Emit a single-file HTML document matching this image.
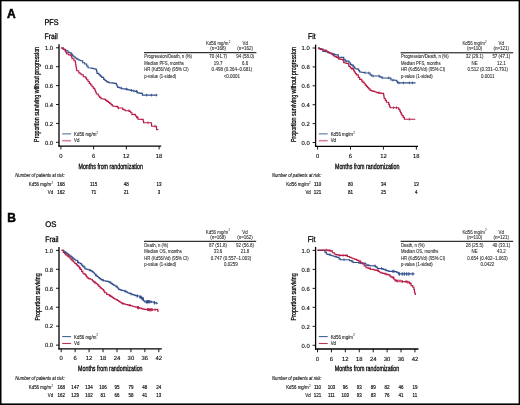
<!DOCTYPE html>
<html><head><meta charset="utf-8"><style>
html,body{margin:0;padding:0;background:#fff;overflow:hidden;width:520px;height:405px;}
svg{position:absolute;left:0;top:0;filter:blur(0.3px);}
text{font-family:"Liberation Sans", sans-serif;}
</style></head><body>
<svg width="520" height="405" viewBox="0 0 520 405" font-family='"Liberation Sans", sans-serif'>
<text x="6.90" y="18.00" font-size="12" font-weight="bold" stroke="#000" stroke-width="0.5">A</text>
<text x="7.30" y="221.60" font-size="12" font-weight="bold" stroke="#000" stroke-width="0.5">B</text>
<text transform="translate(44.50,24.80) skewX(0.1) scale(0.890,1)" font-size="8.2" stroke="#000" stroke-width="0.28">PFS</text>
<text transform="translate(44.60,39.00) skewX(0.1) scale(0.850,1)" font-size="8.0" stroke="#000" stroke-width="0.28">Frail</text>
<text transform="translate(308.00,39.00) skewX(0.1) scale(0.840,1)" font-size="8.2" stroke="#000" stroke-width="0.28">Fit</text>
<text transform="translate(45.20,227.10) skewX(0.1) scale(0.950,1)" font-size="8.2" stroke="#000" stroke-width="0.28">OS</text>
<text transform="translate(45.30,241.80) skewX(0.1) scale(0.850,1)" font-size="8.0" stroke="#000" stroke-width="0.28">Frail</text>
<text transform="translate(307.80,241.80) skewX(0.1) scale(0.840,1)" font-size="8.2" stroke="#000" stroke-width="0.28">Fit</text>
<line x1="59.00" y1="44.20" x2="59.00" y2="146.70" stroke="#000" stroke-width="1.3"/>
<line x1="58.40" y1="146.10" x2="161.20" y2="146.10" stroke="#000" stroke-width="1.3"/>
<line x1="56.00" y1="142.30" x2="59.00" y2="142.30" stroke="#000" stroke-width="0.9"/>
<text x="53.10" y="144.60" font-size="5.9" text-anchor="end" stroke="#000" stroke-width="0.1" transform="matrix(1 0 0.00175 1 -0.2531 0)">0.0</text>
<line x1="56.00" y1="123.40" x2="59.00" y2="123.40" stroke="#000" stroke-width="0.9"/>
<text x="53.10" y="125.70" font-size="5.9" text-anchor="end" stroke="#000" stroke-width="0.1" transform="matrix(1 0 0.00175 1 -0.2200 0)">0.2</text>
<line x1="56.00" y1="104.50" x2="59.00" y2="104.50" stroke="#000" stroke-width="0.9"/>
<text x="53.10" y="106.80" font-size="5.9" text-anchor="end" stroke="#000" stroke-width="0.1" transform="matrix(1 0 0.00175 1 -0.1869 0)">0.4</text>
<line x1="56.00" y1="85.60" x2="59.00" y2="85.60" stroke="#000" stroke-width="0.9"/>
<text x="53.10" y="87.90" font-size="5.9" text-anchor="end" stroke="#000" stroke-width="0.1" transform="matrix(1 0 0.00175 1 -0.1538 0)">0.6</text>
<line x1="56.00" y1="66.70" x2="59.00" y2="66.70" stroke="#000" stroke-width="0.9"/>
<text x="53.10" y="69.00" font-size="5.9" text-anchor="end" stroke="#000" stroke-width="0.1" transform="matrix(1 0 0.00175 1 -0.1207 0)">0.8</text>
<line x1="56.00" y1="47.80" x2="59.00" y2="47.80" stroke="#000" stroke-width="0.9"/>
<text x="53.10" y="50.10" font-size="5.9" text-anchor="end" stroke="#000" stroke-width="0.1" transform="matrix(1 0 0.00175 1 -0.0877 0)">1.0</text>
<line x1="60.90" y1="146.10" x2="60.90" y2="149.40" stroke="#000" stroke-width="0.9"/>
<text x="60.90" y="157.70" font-size="5.9" text-anchor="middle" stroke="#000" stroke-width="0.1" transform="matrix(1 0 0.00175 1 -0.2760 0)">0</text>
<line x1="93.63" y1="146.10" x2="93.63" y2="149.40" stroke="#000" stroke-width="0.9"/>
<text x="93.63" y="157.70" font-size="5.9" text-anchor="middle" stroke="#000" stroke-width="0.1" transform="matrix(1 0 0.00175 1 -0.2760 0)">6</text>
<line x1="126.36" y1="146.10" x2="126.36" y2="149.40" stroke="#000" stroke-width="0.9"/>
<text x="126.36" y="157.70" font-size="5.9" text-anchor="middle" stroke="#000" stroke-width="0.1" transform="matrix(1 0 0.00175 1 -0.2760 0)">12</text>
<line x1="159.09" y1="146.10" x2="159.09" y2="149.40" stroke="#000" stroke-width="0.9"/>
<text x="159.09" y="157.70" font-size="5.9" text-anchor="middle" stroke="#000" stroke-width="0.1" transform="matrix(1 0 0.00175 1 -0.2760 0)">18</text>
<text x="110.70" y="168.80" font-size="7.8" text-anchor="middle" textLength="64.50" lengthAdjust="spacingAndGlyphs" font-weight="normal" stroke="#000" stroke-width="0.3" transform="matrix(1 0 0.00175 1 -0.2954 0)">Months from randomization</text>
<text transform="translate(39.40,94.40) rotate(-90)" font-size="7.8" text-anchor="middle" textLength="95.00" lengthAdjust="spacingAndGlyphs" stroke="#000" stroke-width="0.26">Proportion surviving without progression</text>
<g stroke-opacity="0.55">
<line x1="62.20" y1="133.80" x2="71.10" y2="133.80" stroke="#304e8c" stroke-width="1.6"/>
<line x1="62.20" y1="140.70" x2="71.10" y2="140.70" stroke="#b81a46" stroke-width="1.6"/>
</g>
<text x="74.10" y="135.70" font-size="4.45" textLength="22.24" lengthAdjust="spacingAndGlyphs" fill="#222" stroke="#222" stroke-width="0.1">Kd56 mg/m</text>
<text x="96.59" y="133.60" font-size="3.2" textLength="1.60" lengthAdjust="spacingAndGlyphs" fill="#222" stroke="#222" stroke-width="0.06">2</text>
<text x="74.10" y="142.20" font-size="4.45" textLength="5.38" lengthAdjust="spacingAndGlyphs" fill="#222" stroke="#222" stroke-width="0.1">Vd</text>
<path d="M60.90,48.00H63.30V49.30H64.65V50.00H66.00V50.70H68.00V52.30H69.35V52.70H70.70V53.10H71.70V54.55H72.70V56.00H74.00V57.00H75.30V58.00H76.65V58.85H78.00V59.70H79.35V60.20H80.70V60.70H82.70V62.70H84.70V64.00H86.70V66.00H88.00V67.70L90.70,68.00H92.00V68.35H93.30V68.70H95.00V69.10H96.30V70.00H96.65V71.65H97.00V73.30H99.00V74.90H100.35V76.10H101.70V77.30H103.70V79.30H105.00V80.45H106.30V81.60H107.65V82.15H109.00V82.70L111.70,82.90H113.00V83.10H114.30V83.30H116.30V84.70H117.00V86.00H117.70V87.30H119.70V88.00H121.70V88.70H123.70V88.90H125.70V89.10H127.35V89.55H129.00V90.00H130.50V90.35H132.00V90.70H133.65V91.00H135.30V91.30H137.30V92.90H139.00V93.10H140.70V93.30H142.40V95.10L157.30,95.10" fill="none" stroke="#304e8c" stroke-width="1.15" stroke-linejoin="miter"/>
<path d="M60.90,48.00H63.30V49.30H65.30V51.30H66.00V52.65H66.70V54.00H68.70V54.90H70.70V55.30H71.35V57.00H72.00V58.70H74.00V60.70H75.30V62.70H75.65V64.70H76.00V66.70H76.35V68.70H76.70V70.70H78.70V72.70H80.00V73.70H81.30V74.70H83.30V76.70H85.30V77.10H86.00V78.40H86.70V79.70H88.00V81.50H89.30V83.30H90.65V85.00H92.00V86.70H93.35V88.35H94.70V90.00H95.50V92.00H96.30V94.00H98.30V96.00H99.65V97.35H101.00V98.70H102.65V99.00H104.30V99.30H105.65V100.30H107.00V101.30H108.35V102.30H109.70V103.30H111.00V104.65H112.30V106.00H113.65V106.20H115.00V106.40H117.30V107.10H118.00V108.00L121.30,108.00H122.70V109.30H124.00V110.00H125.30V110.70L127.30,110.70H129.30V111.30H130.70V112.70H132.00V114.70L134.00,114.40H135.30V116.00H136.70V117.30H138.00V119.10L142.70,119.30H143.15V121.00H143.60V122.70L151.30,122.70H151.45V124.45H151.60V126.20L156.20,126.20H156.40V127.90H156.60V129.60H157.80V130.00" fill="none" stroke="#b81a46" stroke-width="1.15" stroke-linejoin="miter"/>
<line x1="121.20" y1="86.65" x2="121.20" y2="89.35" stroke="#304e8c" stroke-width="0.8"/>
<line x1="126.50" y1="87.75" x2="126.50" y2="90.45" stroke="#304e8c" stroke-width="0.8"/>
<line x1="131.50" y1="89.00" x2="131.50" y2="91.70" stroke="#304e8c" stroke-width="0.8"/>
<line x1="133.80" y1="89.65" x2="133.80" y2="92.35" stroke="#304e8c" stroke-width="0.8"/>
<line x1="136.50" y1="89.95" x2="136.50" y2="92.65" stroke="#304e8c" stroke-width="0.8"/>
<line x1="146.50" y1="93.75" x2="146.50" y2="96.45" stroke="#304e8c" stroke-width="0.8"/>
<line x1="151.50" y1="93.75" x2="151.50" y2="96.45" stroke="#304e8c" stroke-width="0.8"/>
<line x1="156.40" y1="93.75" x2="156.40" y2="96.45" stroke="#304e8c" stroke-width="0.8"/>
<line x1="118.50" y1="106.65" x2="118.50" y2="109.35" stroke="#b81a46" stroke-width="0.8"/>
<line x1="129.00" y1="109.35" x2="129.00" y2="112.05" stroke="#b81a46" stroke-width="0.8"/>
<line x1="137.00" y1="115.95" x2="137.00" y2="118.65" stroke="#b81a46" stroke-width="0.8"/>
<line x1="148.00" y1="121.35" x2="148.00" y2="124.05" stroke="#b81a46" stroke-width="0.8"/>
<line x1="155.00" y1="124.85" x2="155.00" y2="127.55" stroke="#b81a46" stroke-width="0.8"/>
<line x1="315.60" y1="44.60" x2="315.60" y2="146.90" stroke="#000" stroke-width="1.3"/>
<line x1="315.00" y1="146.30" x2="418.00" y2="146.30" stroke="#000" stroke-width="1.3"/>
<line x1="312.60" y1="142.50" x2="315.60" y2="142.50" stroke="#000" stroke-width="0.9"/>
<text x="309.70" y="144.80" font-size="5.9" text-anchor="end" stroke="#000" stroke-width="0.1" transform="matrix(1 0 0.00175 1 -0.2534 0)">0.0</text>
<line x1="312.60" y1="123.60" x2="315.60" y2="123.60" stroke="#000" stroke-width="0.9"/>
<text x="309.70" y="125.90" font-size="5.9" text-anchor="end" stroke="#000" stroke-width="0.1" transform="matrix(1 0 0.00175 1 -0.2203 0)">0.2</text>
<line x1="312.60" y1="104.70" x2="315.60" y2="104.70" stroke="#000" stroke-width="0.9"/>
<text x="309.70" y="107.00" font-size="5.9" text-anchor="end" stroke="#000" stroke-width="0.1" transform="matrix(1 0 0.00175 1 -0.1872 0)">0.4</text>
<line x1="312.60" y1="85.80" x2="315.60" y2="85.80" stroke="#000" stroke-width="0.9"/>
<text x="309.70" y="88.10" font-size="5.9" text-anchor="end" stroke="#000" stroke-width="0.1" transform="matrix(1 0 0.00175 1 -0.1542 0)">0.6</text>
<line x1="312.60" y1="66.90" x2="315.60" y2="66.90" stroke="#000" stroke-width="0.9"/>
<text x="309.70" y="69.20" font-size="5.9" text-anchor="end" stroke="#000" stroke-width="0.1" transform="matrix(1 0 0.00175 1 -0.1211 0)">0.8</text>
<line x1="312.60" y1="48.00" x2="315.60" y2="48.00" stroke="#000" stroke-width="0.9"/>
<text x="309.70" y="50.30" font-size="5.9" text-anchor="end" stroke="#000" stroke-width="0.1" transform="matrix(1 0 0.00175 1 -0.0880 0)">1.0</text>
<line x1="317.60" y1="146.30" x2="317.60" y2="149.60" stroke="#000" stroke-width="0.9"/>
<text x="317.60" y="157.90" font-size="5.9" text-anchor="middle" stroke="#000" stroke-width="0.1" transform="matrix(1 0 0.00175 1 -0.2763 0)">0</text>
<line x1="350.52" y1="146.30" x2="350.52" y2="149.60" stroke="#000" stroke-width="0.9"/>
<text x="350.52" y="157.90" font-size="5.9" text-anchor="middle" stroke="#000" stroke-width="0.1" transform="matrix(1 0 0.00175 1 -0.2763 0)">6</text>
<line x1="383.43" y1="146.30" x2="383.43" y2="149.60" stroke="#000" stroke-width="0.9"/>
<text x="383.43" y="157.90" font-size="5.9" text-anchor="middle" stroke="#000" stroke-width="0.1" transform="matrix(1 0 0.00175 1 -0.2763 0)">12</text>
<line x1="416.35" y1="146.30" x2="416.35" y2="149.60" stroke="#000" stroke-width="0.9"/>
<text x="416.35" y="157.90" font-size="5.9" text-anchor="middle" stroke="#000" stroke-width="0.1" transform="matrix(1 0 0.00175 1 -0.2763 0)">18</text>
<text x="367.20" y="169.00" font-size="7.8" text-anchor="middle" textLength="64.50" lengthAdjust="spacingAndGlyphs" font-weight="normal" stroke="#000" stroke-width="0.3" transform="matrix(1 0 0.00175 1 -0.2958 0)">Months from randomization</text>
<text transform="translate(296.00,94.60) rotate(-90)" font-size="7.8" text-anchor="middle" textLength="95.00" lengthAdjust="spacingAndGlyphs" stroke="#000" stroke-width="0.26">Proportion surviving without progression</text>
<g stroke-opacity="0.55">
<line x1="318.80" y1="133.80" x2="327.70" y2="133.80" stroke="#304e8c" stroke-width="1.6"/>
<line x1="318.80" y1="140.70" x2="327.70" y2="140.70" stroke="#b81a46" stroke-width="1.6"/>
</g>
<text x="330.70" y="135.70" font-size="4.45" textLength="22.24" lengthAdjust="spacingAndGlyphs" fill="#222" stroke="#222" stroke-width="0.1">Kd56 mg/m</text>
<text x="353.19" y="133.60" font-size="3.2" textLength="1.60" lengthAdjust="spacingAndGlyphs" fill="#222" stroke="#222" stroke-width="0.06">2</text>
<text x="330.70" y="142.20" font-size="4.45" textLength="5.38" lengthAdjust="spacingAndGlyphs" fill="#222" stroke="#222" stroke-width="0.1">Vd</text>
<path d="M317.90,48.00H319.45V48.55H321.00V49.10H323.00V51.30H324.35V51.50H325.70V51.70H327.70V52.70H329.00V53.00H330.30V53.30H332.30V54.00H333.65V54.35H335.00V54.70L337.00,54.90H338.30V57.10L342.30,57.30H343.70V59.30H345.00V61.10L347.70,61.10H349.00V62.70H350.30V64.30H351.65V65.15H353.00V66.00H354.00V67.35H355.00V68.70H356.35V68.90H357.70V69.10H358.70V70.55H359.70V72.00H361.23V72.23H362.77V72.47H364.30V72.70L368.70,73.00H370.10V74.80H371.60V76.00L378.30,76.00H379.80V76.90H381.30V77.80L389.40,78.10H390.90V80.00H392.63V80.13H394.37V80.27H396.10V80.40H396.85V81.65H397.60V82.90L415.50,82.90" fill="none" stroke="#304e8c" stroke-width="1.15" stroke-linejoin="miter"/>
<path d="M317.90,48.00H319.10V48.65H320.30V49.30H321.65V49.65H323.00V50.00H324.35V50.35H325.70V50.70H327.00V51.50H328.30V52.30H329.65V52.95H331.00V53.60H332.35V54.80H333.70V56.00H335.00V56.65H336.30V57.30H338.30V58.90H339.65V59.10H341.00V59.30H343.00V60.70H343.70V62.70H345.00V63.00H346.30V63.30H348.30V64.00H348.65V65.20H349.00V66.40H350.30V68.00H351.65V68.55H353.00V69.10H353.65V70.55H354.30V72.00H355.30V73.45H356.30V74.90H358.30V77.30H359.70V79.30H361.70V81.10H362.95V82.40H364.20V83.70H365.30V85.05H366.40V86.40H367.55V87.65H368.70V88.90H370.10V90.40H371.60V90.90H373.10V91.40H374.95V92.00H376.80V92.60H378.30V92.83H379.80V93.07H381.30V93.30H383.50V94.10H383.73V95.57H383.97V97.03H384.20V98.50H385.30V100.35H386.40V102.20H388.70V104.40H389.40V106.05H390.10V107.70L397.60,107.70H398.70V109.40H399.80V111.10H400.53V112.60H401.27V114.10H402.00V115.60H403.20V117.40H404.40V119.20L415.30,119.20" fill="none" stroke="#b81a46" stroke-width="1.15" stroke-linejoin="miter"/>
<line x1="334.00" y1="53.00" x2="334.00" y2="55.70" stroke="#304e8c" stroke-width="0.8"/>
<line x1="346.00" y1="59.75" x2="346.00" y2="62.45" stroke="#304e8c" stroke-width="0.8"/>
<line x1="353.00" y1="64.65" x2="353.00" y2="67.35" stroke="#304e8c" stroke-width="0.8"/>
<line x1="365.00" y1="71.35" x2="365.00" y2="74.05" stroke="#304e8c" stroke-width="0.8"/>
<line x1="368.70" y1="71.65" x2="368.70" y2="74.35" stroke="#304e8c" stroke-width="0.8"/>
<line x1="373.10" y1="74.65" x2="373.10" y2="77.35" stroke="#304e8c" stroke-width="0.8"/>
<line x1="379.00" y1="74.65" x2="379.00" y2="77.35" stroke="#304e8c" stroke-width="0.8"/>
<line x1="382.70" y1="76.45" x2="382.70" y2="79.15" stroke="#304e8c" stroke-width="0.8"/>
<line x1="388.70" y1="76.45" x2="388.70" y2="79.15" stroke="#304e8c" stroke-width="0.8"/>
<line x1="393.10" y1="78.78" x2="393.10" y2="81.48" stroke="#304e8c" stroke-width="0.8"/>
<line x1="399.00" y1="81.55" x2="399.00" y2="84.25" stroke="#304e8c" stroke-width="0.8"/>
<line x1="403.50" y1="81.55" x2="403.50" y2="84.25" stroke="#304e8c" stroke-width="0.8"/>
<line x1="409.40" y1="81.55" x2="409.40" y2="84.25" stroke="#304e8c" stroke-width="0.8"/>
<line x1="412.50" y1="81.55" x2="412.50" y2="84.25" stroke="#304e8c" stroke-width="0.8"/>
<line x1="326.00" y1="49.35" x2="326.00" y2="52.05" stroke="#b81a46" stroke-width="0.8"/>
<line x1="338.00" y1="55.95" x2="338.00" y2="58.65" stroke="#b81a46" stroke-width="0.8"/>
<line x1="352.00" y1="67.20" x2="352.00" y2="69.90" stroke="#b81a46" stroke-width="0.8"/>
<line x1="379.00" y1="91.48" x2="379.00" y2="94.18" stroke="#b81a46" stroke-width="0.8"/>
<line x1="393.60" y1="106.35" x2="393.60" y2="109.05" stroke="#b81a46" stroke-width="0.8"/>
<line x1="396.50" y1="106.35" x2="396.50" y2="109.05" stroke="#b81a46" stroke-width="0.8"/>
<line x1="409.40" y1="117.85" x2="409.40" y2="120.55" stroke="#b81a46" stroke-width="0.8"/>
<line x1="59.00" y1="247.00" x2="59.00" y2="349.50" stroke="#000" stroke-width="1.3"/>
<line x1="58.40" y1="348.90" x2="161.80" y2="348.90" stroke="#000" stroke-width="1.3"/>
<line x1="56.00" y1="345.10" x2="59.00" y2="345.10" stroke="#000" stroke-width="0.9"/>
<text x="53.10" y="347.40" font-size="5.9" text-anchor="end" stroke="#000" stroke-width="0.1" transform="matrix(1 0 0.00175 1 -0.6080 0)">0.0</text>
<line x1="56.00" y1="326.16" x2="59.00" y2="326.16" stroke="#000" stroke-width="0.9"/>
<text x="53.10" y="328.46" font-size="5.9" text-anchor="end" stroke="#000" stroke-width="0.1" transform="matrix(1 0 0.00175 1 -0.5748 0)">0.2</text>
<line x1="56.00" y1="307.22" x2="59.00" y2="307.22" stroke="#000" stroke-width="0.9"/>
<text x="53.10" y="309.52" font-size="5.9" text-anchor="end" stroke="#000" stroke-width="0.1" transform="matrix(1 0 0.00175 1 -0.5417 0)">0.4</text>
<line x1="56.00" y1="288.28" x2="59.00" y2="288.28" stroke="#000" stroke-width="0.9"/>
<text x="53.10" y="290.58" font-size="5.9" text-anchor="end" stroke="#000" stroke-width="0.1" transform="matrix(1 0 0.00175 1 -0.5085 0)">0.6</text>
<line x1="56.00" y1="269.34" x2="59.00" y2="269.34" stroke="#000" stroke-width="0.9"/>
<text x="53.10" y="271.64" font-size="5.9" text-anchor="end" stroke="#000" stroke-width="0.1" transform="matrix(1 0 0.00175 1 -0.4754 0)">0.8</text>
<line x1="56.00" y1="250.40" x2="59.00" y2="250.40" stroke="#000" stroke-width="0.9"/>
<text x="53.10" y="252.70" font-size="5.9" text-anchor="end" stroke="#000" stroke-width="0.1" transform="matrix(1 0 0.00175 1 -0.4422 0)">1.0</text>
<line x1="61.20" y1="348.90" x2="61.20" y2="352.20" stroke="#000" stroke-width="0.9"/>
<text x="61.20" y="360.50" font-size="5.9" text-anchor="middle" stroke="#000" stroke-width="0.1" transform="matrix(1 0 0.00175 1 -0.6309 0)">0</text>
<line x1="75.14" y1="348.90" x2="75.14" y2="352.20" stroke="#000" stroke-width="0.9"/>
<text x="75.14" y="360.50" font-size="5.9" text-anchor="middle" stroke="#000" stroke-width="0.1" transform="matrix(1 0 0.00175 1 -0.6309 0)">6</text>
<line x1="89.09" y1="348.90" x2="89.09" y2="352.20" stroke="#000" stroke-width="0.9"/>
<text x="89.09" y="360.50" font-size="5.9" text-anchor="middle" stroke="#000" stroke-width="0.1" transform="matrix(1 0 0.00175 1 -0.6309 0)">12</text>
<line x1="103.03" y1="348.90" x2="103.03" y2="352.20" stroke="#000" stroke-width="0.9"/>
<text x="103.03" y="360.50" font-size="5.9" text-anchor="middle" stroke="#000" stroke-width="0.1" transform="matrix(1 0 0.00175 1 -0.6309 0)">18</text>
<line x1="116.98" y1="348.90" x2="116.98" y2="352.20" stroke="#000" stroke-width="0.9"/>
<text x="116.98" y="360.50" font-size="5.9" text-anchor="middle" stroke="#000" stroke-width="0.1" transform="matrix(1 0 0.00175 1 -0.6309 0)">24</text>
<line x1="130.92" y1="348.90" x2="130.92" y2="352.20" stroke="#000" stroke-width="0.9"/>
<text x="130.92" y="360.50" font-size="5.9" text-anchor="middle" stroke="#000" stroke-width="0.1" transform="matrix(1 0 0.00175 1 -0.6309 0)">30</text>
<line x1="144.86" y1="348.90" x2="144.86" y2="352.20" stroke="#000" stroke-width="0.9"/>
<text x="144.86" y="360.50" font-size="5.9" text-anchor="middle" stroke="#000" stroke-width="0.1" transform="matrix(1 0 0.00175 1 -0.6309 0)">36</text>
<line x1="158.81" y1="348.90" x2="158.81" y2="352.20" stroke="#000" stroke-width="0.9"/>
<text x="158.81" y="360.50" font-size="5.9" text-anchor="middle" stroke="#000" stroke-width="0.1" transform="matrix(1 0 0.00175 1 -0.6309 0)">42</text>
<text x="110.30" y="371.00" font-size="7.8" text-anchor="middle" textLength="64.50" lengthAdjust="spacingAndGlyphs" font-weight="normal" stroke="#000" stroke-width="0.3" transform="matrix(1 0 0.00175 1 -0.6492 0)">Months from randomization</text>
<text transform="translate(40.30,296.90) rotate(-90)" font-size="7.8" text-anchor="middle" textLength="47.00" lengthAdjust="spacingAndGlyphs" stroke="#000" stroke-width="0.26">Proportion surviving</text>
<g stroke-opacity="0.9">
<line x1="62.20" y1="336.60" x2="71.10" y2="336.60" stroke="#304e8c" stroke-width="1.1"/>
<line x1="62.20" y1="343.50" x2="71.10" y2="343.50" stroke="#b81a46" stroke-width="1.1"/>
</g>
<text x="74.10" y="338.50" font-size="4.45" textLength="22.24" lengthAdjust="spacingAndGlyphs" fill="#222" stroke="#222" stroke-width="0.1">Kd56 mg/m</text>
<text x="96.59" y="336.40" font-size="3.2" textLength="1.60" lengthAdjust="spacingAndGlyphs" fill="#222" stroke="#222" stroke-width="0.06">2</text>
<text x="74.10" y="345.00" font-size="4.45" textLength="5.38" lengthAdjust="spacingAndGlyphs" fill="#222" stroke="#222" stroke-width="0.1">Vd</text>
<path d="M61.50,250.20H63.90V251.90H65.40V252.80H66.90V253.70H68.35V254.90H69.80V256.10H71.30V257.25H72.80V258.40H74.00V259.30H75.20V260.20H77.60V262.30H78.90V262.95H80.20V263.60H81.50V265.15H82.80V266.70H84.90V268.80H86.45V269.25H88.00V269.70H89.30V270.15H90.60V270.60H91.90V271.65H93.20V272.70H94.45V274.00H95.70V275.30H97.00V276.45H98.30V277.60H99.60V278.60H100.90V279.60H102.20V280.15H103.50V280.70H105.25V281.05H107.00V281.40H108.30V281.80H109.60V282.20H110.90V283.30H112.20V284.40H113.50V285.05H114.80V285.70H116.00V286.70H117.35V288.00H118.70V289.30H120.00V289.80H121.30V290.30H123.00V290.70H124.70V291.10H126.00V291.90H127.30V292.70H129.00V293.35H130.70V294.00H132.35V294.55H134.00V295.10H135.35V295.55H136.70V296.00L138.70,296.00H140.00V297.30H142.00V298.70H143.30V300.70H144.70V302.00H146.35V301.85H148.00V301.70H150.00V301.85H152.00V302.00H154.00V302.70H156.00V303.10L158.00,303.30" fill="none" stroke="#304e8c" stroke-width="1.15" stroke-linejoin="miter"/>
<path d="M61.50,250.20H63.30V252.50H64.50V253.70H65.70V254.90H67.20V255.90H68.70V256.90H69.85V258.25H71.00V259.60H72.20V260.80H73.40V262.00H74.85V263.45H76.30V264.90H77.50V265.90H78.70V266.90H79.50V268.15H80.30V269.40H81.55V271.30H82.80V273.20H84.10V274.05H85.40V274.90H86.25V276.40H87.10V277.90H88.60V278.55H90.10V279.20H92.30V280.90H93.60V281.80H94.90V282.70H96.20V283.75H97.50V284.80H98.80V286.30H100.10V287.80H101.40V288.70H102.70V289.60H103.70V291.15H104.70V292.70H106.70V294.30H108.00V294.70H109.35V295.55H110.70V296.40H112.00V297.35H113.30V298.30H114.65V298.95H116.00V299.60H117.35V300.45H118.70V301.30H120.00V302.20H121.30V303.10H122.65V303.55H124.00V304.00H125.65V304.45H127.30V304.90H129.00V305.30H130.70V305.70H132.35V306.20H134.00V306.70H135.65V307.15H137.30V307.60H139.30V308.15H141.30V308.70H143.00V309.00H144.70V309.30H146.35V309.50H148.00V309.70L154.00,309.70H155.65V309.50H157.30V309.30H157.65V310.65H158.00V312.00" fill="none" stroke="#b81a46" stroke-width="1.15" stroke-linejoin="miter"/>
<line x1="66.00" y1="251.45" x2="66.00" y2="254.15" stroke="#304e8c" stroke-width="0.8"/>
<line x1="72.00" y1="255.90" x2="72.00" y2="258.60" stroke="#304e8c" stroke-width="0.8"/>
<line x1="78.00" y1="260.95" x2="78.00" y2="263.65" stroke="#304e8c" stroke-width="0.8"/>
<line x1="84.00" y1="265.35" x2="84.00" y2="268.05" stroke="#304e8c" stroke-width="0.8"/>
<line x1="90.00" y1="268.80" x2="90.00" y2="271.50" stroke="#304e8c" stroke-width="0.8"/>
<line x1="96.00" y1="273.95" x2="96.00" y2="276.65" stroke="#304e8c" stroke-width="0.8"/>
<line x1="103.00" y1="278.80" x2="103.00" y2="281.50" stroke="#304e8c" stroke-width="0.8"/>
<line x1="110.00" y1="280.85" x2="110.00" y2="283.55" stroke="#304e8c" stroke-width="0.8"/>
<line x1="117.00" y1="285.35" x2="117.00" y2="288.05" stroke="#304e8c" stroke-width="0.8"/>
<line x1="125.00" y1="289.75" x2="125.00" y2="292.45" stroke="#304e8c" stroke-width="0.8"/>
<line x1="131.00" y1="292.65" x2="131.00" y2="295.35" stroke="#304e8c" stroke-width="0.8"/>
<line x1="137.30" y1="294.30" x2="137.30" y2="297.70" stroke="#304e8c" stroke-width="1.0"/>
<line x1="140.20" y1="295.80" x2="140.20" y2="298.80" stroke="#304e8c" stroke-width="1.2"/>
<line x1="141.20" y1="295.80" x2="141.20" y2="298.80" stroke="#304e8c" stroke-width="1.2"/>
<line x1="142.20" y1="297.20" x2="142.20" y2="300.20" stroke="#304e8c" stroke-width="1.2"/>
<line x1="143.20" y1="297.20" x2="143.20" y2="300.20" stroke="#304e8c" stroke-width="1.2"/>
<line x1="146.50" y1="300.25" x2="146.50" y2="303.45" stroke="#304e8c" stroke-width="1.3"/>
<line x1="147.60" y1="300.25" x2="147.60" y2="303.45" stroke="#304e8c" stroke-width="1.3"/>
<line x1="148.70" y1="300.10" x2="148.70" y2="303.30" stroke="#304e8c" stroke-width="1.3"/>
<line x1="149.80" y1="300.20" x2="149.80" y2="303.20" stroke="#304e8c" stroke-width="1.2"/>
<line x1="151.30" y1="300.55" x2="151.30" y2="303.15" stroke="#304e8c" stroke-width="0.8"/>
<line x1="154.40" y1="301.00" x2="154.40" y2="304.40" stroke="#304e8c" stroke-width="1.1"/>
<line x1="156.30" y1="301.80" x2="156.30" y2="304.40" stroke="#304e8c" stroke-width="0.8"/>
<line x1="68.00" y1="254.55" x2="68.00" y2="257.25" stroke="#b81a46" stroke-width="0.8"/>
<line x1="80.00" y1="266.80" x2="80.00" y2="269.50" stroke="#b81a46" stroke-width="0.8"/>
<line x1="95.00" y1="281.35" x2="95.00" y2="284.05" stroke="#b81a46" stroke-width="0.8"/>
<line x1="110.00" y1="294.20" x2="110.00" y2="296.90" stroke="#b81a46" stroke-width="0.8"/>
<line x1="123.00" y1="302.20" x2="123.00" y2="304.90" stroke="#b81a46" stroke-width="0.8"/>
<line x1="130.00" y1="303.95" x2="130.00" y2="306.65" stroke="#b81a46" stroke-width="0.8"/>
<line x1="138.10" y1="305.90" x2="138.10" y2="309.30" stroke="#b81a46" stroke-width="1.6"/>
<line x1="143.00" y1="307.80" x2="143.00" y2="310.20" stroke="#b81a46" stroke-width="0.7"/>
<line x1="147.80" y1="308.00" x2="147.80" y2="311.00" stroke="#b81a46" stroke-width="1.3"/>
<line x1="148.90" y1="308.20" x2="148.90" y2="311.20" stroke="#b81a46" stroke-width="1.3"/>
<line x1="150.00" y1="308.20" x2="150.00" y2="311.20" stroke="#b81a46" stroke-width="1.3"/>
<line x1="151.10" y1="308.20" x2="151.10" y2="311.20" stroke="#b81a46" stroke-width="1.3"/>
<line x1="152.20" y1="308.30" x2="152.20" y2="311.10" stroke="#b81a46" stroke-width="1.1"/>
<line x1="155.00" y1="308.40" x2="155.00" y2="311.00" stroke="#b81a46" stroke-width="0.8"/>
<line x1="315.60" y1="246.90" x2="315.60" y2="349.60" stroke="#000" stroke-width="1.3"/>
<line x1="315.00" y1="349.00" x2="418.50" y2="349.00" stroke="#000" stroke-width="1.3"/>
<line x1="312.60" y1="345.30" x2="315.60" y2="345.30" stroke="#000" stroke-width="0.9"/>
<text x="309.70" y="347.60" font-size="5.9" text-anchor="end" stroke="#000" stroke-width="0.1" transform="matrix(1 0 0.00175 1 -0.6083 0)">0.0</text>
<line x1="312.60" y1="326.32" x2="315.60" y2="326.32" stroke="#000" stroke-width="0.9"/>
<text x="309.70" y="328.62" font-size="5.9" text-anchor="end" stroke="#000" stroke-width="0.1" transform="matrix(1 0 0.00175 1 -0.5751 0)">0.2</text>
<line x1="312.60" y1="307.34" x2="315.60" y2="307.34" stroke="#000" stroke-width="0.9"/>
<text x="309.70" y="309.64" font-size="5.9" text-anchor="end" stroke="#000" stroke-width="0.1" transform="matrix(1 0 0.00175 1 -0.5419 0)">0.4</text>
<line x1="312.60" y1="288.36" x2="315.60" y2="288.36" stroke="#000" stroke-width="0.9"/>
<text x="309.70" y="290.66" font-size="5.9" text-anchor="end" stroke="#000" stroke-width="0.1" transform="matrix(1 0 0.00175 1 -0.5087 0)">0.6</text>
<line x1="312.60" y1="269.38" x2="315.60" y2="269.38" stroke="#000" stroke-width="0.9"/>
<text x="309.70" y="271.68" font-size="5.9" text-anchor="end" stroke="#000" stroke-width="0.1" transform="matrix(1 0 0.00175 1 -0.4754 0)">0.8</text>
<line x1="312.60" y1="250.40" x2="315.60" y2="250.40" stroke="#000" stroke-width="0.9"/>
<text x="309.70" y="252.70" font-size="5.9" text-anchor="end" stroke="#000" stroke-width="0.1" transform="matrix(1 0 0.00175 1 -0.4422 0)">1.0</text>
<line x1="317.50" y1="349.00" x2="317.50" y2="352.30" stroke="#000" stroke-width="0.9"/>
<text x="317.50" y="360.60" font-size="5.9" text-anchor="middle" stroke="#000" stroke-width="0.1" transform="matrix(1 0 0.00175 1 -0.6310 0)">0</text>
<line x1="331.42" y1="349.00" x2="331.42" y2="352.30" stroke="#000" stroke-width="0.9"/>
<text x="331.42" y="360.60" font-size="5.9" text-anchor="middle" stroke="#000" stroke-width="0.1" transform="matrix(1 0 0.00175 1 -0.6310 0)">6</text>
<line x1="345.34" y1="349.00" x2="345.34" y2="352.30" stroke="#000" stroke-width="0.9"/>
<text x="345.34" y="360.60" font-size="5.9" text-anchor="middle" stroke="#000" stroke-width="0.1" transform="matrix(1 0 0.00175 1 -0.6310 0)">12</text>
<line x1="359.26" y1="349.00" x2="359.26" y2="352.30" stroke="#000" stroke-width="0.9"/>
<text x="359.26" y="360.60" font-size="5.9" text-anchor="middle" stroke="#000" stroke-width="0.1" transform="matrix(1 0 0.00175 1 -0.6310 0)">18</text>
<line x1="373.18" y1="349.00" x2="373.18" y2="352.30" stroke="#000" stroke-width="0.9"/>
<text x="373.18" y="360.60" font-size="5.9" text-anchor="middle" stroke="#000" stroke-width="0.1" transform="matrix(1 0 0.00175 1 -0.6310 0)">24</text>
<line x1="387.10" y1="349.00" x2="387.10" y2="352.30" stroke="#000" stroke-width="0.9"/>
<text x="387.10" y="360.60" font-size="5.9" text-anchor="middle" stroke="#000" stroke-width="0.1" transform="matrix(1 0 0.00175 1 -0.6310 0)">30</text>
<line x1="401.02" y1="349.00" x2="401.02" y2="352.30" stroke="#000" stroke-width="0.9"/>
<text x="401.02" y="360.60" font-size="5.9" text-anchor="middle" stroke="#000" stroke-width="0.1" transform="matrix(1 0 0.00175 1 -0.6310 0)">36</text>
<line x1="414.94" y1="349.00" x2="414.94" y2="352.30" stroke="#000" stroke-width="0.9"/>
<text x="414.94" y="360.60" font-size="5.9" text-anchor="middle" stroke="#000" stroke-width="0.1" transform="matrix(1 0 0.00175 1 -0.6310 0)">42</text>
<text x="367.00" y="371.10" font-size="7.8" text-anchor="middle" textLength="64.50" lengthAdjust="spacingAndGlyphs" font-weight="normal" stroke="#000" stroke-width="0.3" transform="matrix(1 0 0.00175 1 -0.6494 0)">Months from randomization</text>
<text transform="translate(295.60,296.90) rotate(-90)" font-size="7.8" text-anchor="middle" textLength="47.00" lengthAdjust="spacingAndGlyphs" stroke="#000" stroke-width="0.26">Proportion surviving</text>
<g stroke-opacity="0.9">
<line x1="318.80" y1="336.60" x2="327.70" y2="336.60" stroke="#304e8c" stroke-width="1.1"/>
<line x1="318.80" y1="343.50" x2="327.70" y2="343.50" stroke="#b81a46" stroke-width="1.1"/>
</g>
<text x="330.70" y="338.50" font-size="4.45" textLength="22.24" lengthAdjust="spacingAndGlyphs" fill="#222" stroke="#222" stroke-width="0.1">Kd56 mg/m</text>
<text x="353.19" y="336.40" font-size="3.2" textLength="1.60" lengthAdjust="spacingAndGlyphs" fill="#222" stroke="#222" stroke-width="0.06">2</text>
<text x="330.70" y="345.00" font-size="4.45" textLength="5.38" lengthAdjust="spacingAndGlyphs" fill="#222" stroke="#222" stroke-width="0.1">Vd</text>
<path d="M317.50,250.40L323.70,250.40H325.00V252.30H326.30V254.00H327.65V254.35H329.00V254.70H330.35V255.20H331.70V255.70H333.35V256.20H335.00V256.70H337.00V257.30H339.00V258.90H340.30V259.70L348.20,259.70H349.50V260.60H351.70V261.20H353.00V262.50L357.30,262.50H358.60V262.80H360.80V263.10L363.40,263.10H365.10V263.70H366.00V265.10H367.90V265.35H369.80V265.60L374.60,265.80H375.60V266.90H376.90V267.80H377.80V268.40L382.20,268.60H383.10V269.30H384.90V270.00H386.25V270.45H387.60V270.90H388.90V271.30L392.00,271.30H394.40V271.60H396.70V272.30H398.30V273.90L414.40,273.90" fill="none" stroke="#304e8c" stroke-width="1.15" stroke-linejoin="miter"/>
<path d="M317.50,250.10L325.00,250.10H326.65V250.25H328.30V250.40H329.65V250.65H331.00V250.90H332.30V252.70H334.30V254.00H335.65V254.45H337.00V254.90H339.00V255.40L345.60,255.40H347.40V256.50H349.50V257.40H351.20V258.00H353.00V258.70H354.70V259.30H356.90V260.40H358.60V261.20H360.80V262.80H362.50V263.80H364.20V266.00H366.00V267.70H368.10V268.30H370.30V269.20L372.00,269.40H373.80V269.90H375.10V270.15H376.40V270.40H378.20V271.30H379.60V272.20H380.90V272.80H382.70V273.40H384.90V274.10H387.10V274.60H388.90V275.10H389.80V275.80H390.70V276.90H392.20V277.60H393.90V279.20H395.00V280.60H396.40V280.80H397.80V281.00L400.60,281.00H402.20V281.60L405.00,281.60H406.40V281.85H407.80V282.10H409.40V283.30H411.10V285.60H412.80V287.20H413.90V289.40H414.40V291.70H414.85V293.35H415.30V295.00" fill="none" stroke="#b81a46" stroke-width="1.15" stroke-linejoin="miter"/>
<line x1="330.00" y1="253.35" x2="330.00" y2="256.05" stroke="#304e8c" stroke-width="0.8"/>
<line x1="336.00" y1="255.35" x2="336.00" y2="258.05" stroke="#304e8c" stroke-width="0.8"/>
<line x1="344.00" y1="258.35" x2="344.00" y2="261.05" stroke="#304e8c" stroke-width="0.8"/>
<line x1="352.00" y1="259.85" x2="352.00" y2="262.55" stroke="#304e8c" stroke-width="0.8"/>
<line x1="360.00" y1="261.45" x2="360.00" y2="264.15" stroke="#304e8c" stroke-width="0.8"/>
<line x1="368.00" y1="264.00" x2="368.00" y2="266.70" stroke="#304e8c" stroke-width="0.8"/>
<line x1="375.00" y1="264.45" x2="375.00" y2="267.15" stroke="#304e8c" stroke-width="0.8"/>
<line x1="381.50" y1="267.05" x2="381.50" y2="269.75" stroke="#304e8c" stroke-width="0.8"/>
<line x1="386.00" y1="268.65" x2="386.00" y2="271.35" stroke="#304e8c" stroke-width="0.8"/>
<line x1="392.80" y1="269.80" x2="392.80" y2="272.80" stroke="#304e8c" stroke-width="0.9"/>
<line x1="393.90" y1="269.80" x2="393.90" y2="272.80" stroke="#304e8c" stroke-width="0.9"/>
<line x1="399.40" y1="272.15" x2="399.40" y2="275.65" stroke="#304e8c" stroke-width="1.1"/>
<line x1="402.20" y1="272.15" x2="402.20" y2="275.65" stroke="#304e8c" stroke-width="1.1"/>
<line x1="404.40" y1="272.15" x2="404.40" y2="275.65" stroke="#304e8c" stroke-width="1.1"/>
<line x1="406.70" y1="272.15" x2="406.70" y2="275.65" stroke="#304e8c" stroke-width="1.1"/>
<line x1="408.90" y1="272.15" x2="408.90" y2="275.65" stroke="#304e8c" stroke-width="1.1"/>
<line x1="412.80" y1="272.20" x2="412.80" y2="275.60" stroke="#304e8c" stroke-width="1.0"/>
<line x1="326.30" y1="248.75" x2="326.30" y2="251.45" stroke="#b81a46" stroke-width="0.8"/>
<line x1="328.00" y1="248.90" x2="328.00" y2="251.60" stroke="#b81a46" stroke-width="0.8"/>
<line x1="330.00" y1="249.30" x2="330.00" y2="252.00" stroke="#b81a46" stroke-width="0.8"/>
<line x1="340.00" y1="254.05" x2="340.00" y2="256.75" stroke="#b81a46" stroke-width="0.8"/>
<line x1="343.00" y1="254.05" x2="343.00" y2="256.75" stroke="#b81a46" stroke-width="0.8"/>
<line x1="346.00" y1="254.05" x2="346.00" y2="256.75" stroke="#b81a46" stroke-width="0.8"/>
<line x1="360.00" y1="259.85" x2="360.00" y2="262.55" stroke="#b81a46" stroke-width="0.8"/>
<line x1="370.00" y1="266.95" x2="370.00" y2="269.65" stroke="#b81a46" stroke-width="0.8"/>
<line x1="378.00" y1="269.05" x2="378.00" y2="271.75" stroke="#b81a46" stroke-width="0.8"/>
<line x1="386.00" y1="272.75" x2="386.00" y2="275.45" stroke="#b81a46" stroke-width="0.8"/>
<line x1="393.30" y1="276.10" x2="393.30" y2="279.10" stroke="#b81a46" stroke-width="0.9"/>
<line x1="396.10" y1="279.10" x2="396.10" y2="282.10" stroke="#b81a46" stroke-width="0.9"/>
<line x1="397.80" y1="279.50" x2="397.80" y2="282.50" stroke="#b81a46" stroke-width="0.9"/>
<line x1="400.00" y1="279.50" x2="400.00" y2="282.50" stroke="#b81a46" stroke-width="0.9"/>
<line x1="402.20" y1="280.10" x2="402.20" y2="283.10" stroke="#b81a46" stroke-width="0.9"/>
<line x1="406.10" y1="280.10" x2="406.10" y2="283.10" stroke="#b81a46" stroke-width="0.9"/>
<line x1="407.80" y1="280.60" x2="407.80" y2="283.60" stroke="#b81a46" stroke-width="0.9"/>
<line x1="410.00" y1="281.90" x2="410.00" y2="284.70" stroke="#b81a46" stroke-width="0.8"/>
<text x="205.98" y="44.90" font-size="4.45" textLength="22.50" lengthAdjust="spacingAndGlyphs" fill="#2a2a2a" stroke="#2a2a2a" stroke-width="0.08">Kd56 mg/m</text>
<text x="228.72" y="42.80" font-size="3.2" textLength="1.60" lengthAdjust="spacingAndGlyphs" fill="#2a2a2a" stroke="#2a2a2a" stroke-width="0.06">2</text>
<text x="218.20" y="49.95" font-size="4.45" text-anchor="middle" textLength="15.64" lengthAdjust="spacingAndGlyphs" fill="#2a2a2a" stroke="#2a2a2a" stroke-width="0.08">(n=168)</text>
<text x="245.20" y="44.90" font-size="4.45" text-anchor="middle" textLength="5.38" lengthAdjust="spacingAndGlyphs" fill="#2a2a2a" stroke="#2a2a2a" stroke-width="0.08">Vd</text>
<text x="245.20" y="49.95" font-size="4.45" text-anchor="middle" textLength="15.64" lengthAdjust="spacingAndGlyphs" fill="#2a2a2a" stroke="#2a2a2a" stroke-width="0.08">(n=162)</text>
<line x1="144.00" y1="52.70" x2="256.40" y2="52.70" stroke="#000" stroke-width="1.0"/>
<text x="144.30" y="58.40" font-size="4.45" textLength="47.72" lengthAdjust="spacingAndGlyphs" fill="#2a2a2a" stroke="#2a2a2a" stroke-width="0.08">Progression/Death, n (%)</text>
<text x="218.20" y="58.40" font-size="4.45" text-anchor="middle" textLength="17.81" lengthAdjust="spacingAndGlyphs" fill="#2a2a2a" stroke="#2a2a2a" stroke-width="0.08">70 (41.7)</text>
<text x="245.20" y="58.40" font-size="4.45" text-anchor="middle" textLength="17.81" lengthAdjust="spacingAndGlyphs" fill="#2a2a2a" stroke="#2a2a2a" stroke-width="0.08">94 (58.0)</text>
<text x="144.30" y="64.85" font-size="4.45" textLength="39.69" lengthAdjust="spacingAndGlyphs" fill="#2a2a2a" stroke="#2a2a2a" stroke-width="0.08">Median PFS, months</text>
<text x="218.20" y="64.85" font-size="4.45" text-anchor="middle" textLength="8.66" lengthAdjust="spacingAndGlyphs" fill="#2a2a2a" stroke="#2a2a2a" stroke-width="0.08">19.7</text>
<text x="245.20" y="64.85" font-size="4.45" text-anchor="middle" textLength="6.19" lengthAdjust="spacingAndGlyphs" fill="#2a2a2a" stroke="#2a2a2a" stroke-width="0.08">6.6</text>
<text x="144.30" y="71.30" font-size="4.45" textLength="44.40" lengthAdjust="spacingAndGlyphs" fill="#2a2a2a" stroke="#2a2a2a" stroke-width="0.08">HR (Kd56/Vd) (95% CI)</text>
<text x="231.90" y="71.30" font-size="4.45" text-anchor="middle" textLength="40.53" lengthAdjust="spacingAndGlyphs" fill="#2a2a2a" stroke="#2a2a2a" stroke-width="0.08">0.498 (0.364–0.681)</text>
<text x="144.30" y="77.75" font-size="4.45" textLength="31.89" lengthAdjust="spacingAndGlyphs" fill="#2a2a2a" stroke="#2a2a2a" stroke-width="0.08">p-value (1-sided)</text>
<text x="231.90" y="77.75" font-size="4.45" text-anchor="middle" textLength="16.39" lengthAdjust="spacingAndGlyphs" fill="#2a2a2a" stroke="#2a2a2a" stroke-width="0.08">&lt;0.0001</text>
<text x="462.38" y="45.00" font-size="4.45" textLength="22.50" lengthAdjust="spacingAndGlyphs" fill="#2a2a2a" stroke="#2a2a2a" stroke-width="0.08">Kd56 mg/m</text>
<text x="485.12" y="42.90" font-size="3.2" textLength="1.60" lengthAdjust="spacingAndGlyphs" fill="#2a2a2a" stroke="#2a2a2a" stroke-width="0.06">2</text>
<text x="474.60" y="50.05" font-size="4.45" text-anchor="middle" textLength="15.30" lengthAdjust="spacingAndGlyphs" fill="#2a2a2a" stroke="#2a2a2a" stroke-width="0.08">(n=110)</text>
<text x="501.30" y="45.00" font-size="4.45" text-anchor="middle" textLength="5.38" lengthAdjust="spacingAndGlyphs" fill="#2a2a2a" stroke="#2a2a2a" stroke-width="0.08">Vd</text>
<text x="501.30" y="50.05" font-size="4.45" text-anchor="middle" textLength="15.64" lengthAdjust="spacingAndGlyphs" fill="#2a2a2a" stroke="#2a2a2a" stroke-width="0.08">(n=121)</text>
<line x1="400.60" y1="52.80" x2="513.20" y2="52.80" stroke="#000" stroke-width="1.0"/>
<text x="400.90" y="58.40" font-size="4.45" textLength="47.72" lengthAdjust="spacingAndGlyphs" fill="#2a2a2a" stroke="#2a2a2a" stroke-width="0.08">Progression/Death, n (%)</text>
<text x="474.60" y="58.40" font-size="4.45" text-anchor="middle" textLength="17.81" lengthAdjust="spacingAndGlyphs" fill="#2a2a2a" stroke="#2a2a2a" stroke-width="0.08">32 (29.1)</text>
<text x="501.30" y="58.40" font-size="4.45" text-anchor="middle" textLength="17.81" lengthAdjust="spacingAndGlyphs" fill="#2a2a2a" stroke="#2a2a2a" stroke-width="0.08">57 (47.1)</text>
<text x="400.90" y="64.85" font-size="4.45" textLength="39.69" lengthAdjust="spacingAndGlyphs" fill="#2a2a2a" stroke="#2a2a2a" stroke-width="0.08">Median PFS, months</text>
<text x="474.60" y="64.85" font-size="4.45" text-anchor="middle" textLength="6.18" lengthAdjust="spacingAndGlyphs" fill="#2a2a2a" stroke="#2a2a2a" stroke-width="0.08">NE</text>
<text x="501.30" y="64.85" font-size="4.45" text-anchor="middle" textLength="8.66" lengthAdjust="spacingAndGlyphs" fill="#2a2a2a" stroke="#2a2a2a" stroke-width="0.08">12.1</text>
<text x="400.90" y="71.30" font-size="4.45" textLength="44.40" lengthAdjust="spacingAndGlyphs" fill="#2a2a2a" stroke="#2a2a2a" stroke-width="0.08">HR (Kd56/Vd) (95% CI)</text>
<text x="487.80" y="71.30" font-size="4.45" text-anchor="middle" textLength="40.53" lengthAdjust="spacingAndGlyphs" fill="#2a2a2a" stroke="#2a2a2a" stroke-width="0.08">0.512 (0.331–0.791)</text>
<text x="400.90" y="77.75" font-size="4.45" textLength="31.89" lengthAdjust="spacingAndGlyphs" fill="#2a2a2a" stroke="#2a2a2a" stroke-width="0.08">p-value (1-sided)</text>
<text x="487.80" y="77.75" font-size="4.45" text-anchor="middle" textLength="13.43" lengthAdjust="spacingAndGlyphs" fill="#2a2a2a" stroke="#2a2a2a" stroke-width="0.08">0.0011</text>
<text x="205.78" y="233.50" font-size="4.45" textLength="22.50" lengthAdjust="spacingAndGlyphs" fill="#2a2a2a" stroke="#2a2a2a" stroke-width="0.08">Kd56 mg/m</text>
<text x="228.52" y="231.40" font-size="3.2" textLength="1.60" lengthAdjust="spacingAndGlyphs" fill="#2a2a2a" stroke="#2a2a2a" stroke-width="0.06">2</text>
<text x="218.00" y="238.55" font-size="4.45" text-anchor="middle" textLength="15.64" lengthAdjust="spacingAndGlyphs" fill="#2a2a2a" stroke="#2a2a2a" stroke-width="0.08">(n=168)</text>
<text x="245.00" y="233.50" font-size="4.45" text-anchor="middle" textLength="5.38" lengthAdjust="spacingAndGlyphs" fill="#2a2a2a" stroke="#2a2a2a" stroke-width="0.08">Vd</text>
<text x="245.00" y="238.55" font-size="4.45" text-anchor="middle" textLength="15.64" lengthAdjust="spacingAndGlyphs" fill="#2a2a2a" stroke="#2a2a2a" stroke-width="0.08">(n=162)</text>
<line x1="144.00" y1="241.30" x2="256.20" y2="241.30" stroke="#000" stroke-width="1.0"/>
<text x="144.30" y="246.90" font-size="4.45" textLength="23.86" lengthAdjust="spacingAndGlyphs" fill="#2a2a2a" stroke="#2a2a2a" stroke-width="0.08">Death, n (%)</text>
<text x="218.00" y="246.90" font-size="4.45" text-anchor="middle" textLength="17.81" lengthAdjust="spacingAndGlyphs" fill="#2a2a2a" stroke="#2a2a2a" stroke-width="0.08">87 (51.8)</text>
<text x="245.00" y="246.90" font-size="4.45" text-anchor="middle" textLength="17.81" lengthAdjust="spacingAndGlyphs" fill="#2a2a2a" stroke="#2a2a2a" stroke-width="0.08">92 (56.8)</text>
<text x="144.30" y="253.35" font-size="4.45" textLength="37.56" lengthAdjust="spacingAndGlyphs" fill="#2a2a2a" stroke="#2a2a2a" stroke-width="0.08">Median OS, months</text>
<text x="218.00" y="253.35" font-size="4.45" text-anchor="middle" textLength="8.66" lengthAdjust="spacingAndGlyphs" fill="#2a2a2a" stroke="#2a2a2a" stroke-width="0.08">33.6</text>
<text x="245.00" y="253.35" font-size="4.45" text-anchor="middle" textLength="8.66" lengthAdjust="spacingAndGlyphs" fill="#2a2a2a" stroke="#2a2a2a" stroke-width="0.08">21.8</text>
<text x="144.30" y="259.80" font-size="4.45" textLength="44.40" lengthAdjust="spacingAndGlyphs" fill="#2a2a2a" stroke="#2a2a2a" stroke-width="0.08">HR (Kd56/Vd) (95% CI)</text>
<text x="231.00" y="259.80" font-size="4.45" text-anchor="middle" textLength="40.53" lengthAdjust="spacingAndGlyphs" fill="#2a2a2a" stroke="#2a2a2a" stroke-width="0.08">0.747 (0.557–1.003)</text>
<text x="144.30" y="266.25" font-size="4.45" textLength="31.89" lengthAdjust="spacingAndGlyphs" fill="#2a2a2a" stroke="#2a2a2a" stroke-width="0.08">p-value (1-sided)</text>
<text x="231.00" y="266.25" font-size="4.45" text-anchor="middle" textLength="13.76" lengthAdjust="spacingAndGlyphs" fill="#2a2a2a" stroke="#2a2a2a" stroke-width="0.08">0.0259</text>
<text x="462.38" y="233.50" font-size="4.45" textLength="22.50" lengthAdjust="spacingAndGlyphs" fill="#2a2a2a" stroke="#2a2a2a" stroke-width="0.08">Kd56 mg/m</text>
<text x="485.12" y="231.40" font-size="3.2" textLength="1.60" lengthAdjust="spacingAndGlyphs" fill="#2a2a2a" stroke="#2a2a2a" stroke-width="0.06">2</text>
<text x="474.60" y="238.55" font-size="4.45" text-anchor="middle" textLength="15.30" lengthAdjust="spacingAndGlyphs" fill="#2a2a2a" stroke="#2a2a2a" stroke-width="0.08">(n=110)</text>
<text x="501.30" y="233.50" font-size="4.45" text-anchor="middle" textLength="5.38" lengthAdjust="spacingAndGlyphs" fill="#2a2a2a" stroke="#2a2a2a" stroke-width="0.08">Vd</text>
<text x="501.30" y="238.55" font-size="4.45" text-anchor="middle" textLength="15.64" lengthAdjust="spacingAndGlyphs" fill="#2a2a2a" stroke="#2a2a2a" stroke-width="0.08">(n=121)</text>
<line x1="400.60" y1="241.30" x2="513.20" y2="241.30" stroke="#000" stroke-width="1.0"/>
<text x="400.90" y="246.90" font-size="4.45" textLength="23.86" lengthAdjust="spacingAndGlyphs" fill="#2a2a2a" stroke="#2a2a2a" stroke-width="0.08">Death, n (%)</text>
<text x="474.60" y="246.90" font-size="4.45" text-anchor="middle" textLength="17.81" lengthAdjust="spacingAndGlyphs" fill="#2a2a2a" stroke="#2a2a2a" stroke-width="0.08">28 (25.5)</text>
<text x="501.30" y="246.90" font-size="4.45" text-anchor="middle" textLength="17.81" lengthAdjust="spacingAndGlyphs" fill="#2a2a2a" stroke="#2a2a2a" stroke-width="0.08">40 (33.1)</text>
<text x="400.90" y="253.35" font-size="4.45" textLength="37.56" lengthAdjust="spacingAndGlyphs" fill="#2a2a2a" stroke="#2a2a2a" stroke-width="0.08">Median OS, months</text>
<text x="474.60" y="253.35" font-size="4.45" text-anchor="middle" textLength="6.18" lengthAdjust="spacingAndGlyphs" fill="#2a2a2a" stroke="#2a2a2a" stroke-width="0.08">NE</text>
<text x="501.30" y="253.35" font-size="4.45" text-anchor="middle" textLength="8.66" lengthAdjust="spacingAndGlyphs" fill="#2a2a2a" stroke="#2a2a2a" stroke-width="0.08">43.2</text>
<text x="400.90" y="259.80" font-size="4.45" textLength="44.40" lengthAdjust="spacingAndGlyphs" fill="#2a2a2a" stroke="#2a2a2a" stroke-width="0.08">HR (Kd56/Vd) (95% CI)</text>
<text x="487.50" y="259.80" font-size="4.45" text-anchor="middle" textLength="40.53" lengthAdjust="spacingAndGlyphs" fill="#2a2a2a" stroke="#2a2a2a" stroke-width="0.08">0.654 (0.402–1.063)</text>
<text x="400.90" y="266.25" font-size="4.45" textLength="31.89" lengthAdjust="spacingAndGlyphs" fill="#2a2a2a" stroke="#2a2a2a" stroke-width="0.08">p-value (1-sided)</text>
<text x="487.50" y="266.25" font-size="4.45" text-anchor="middle" textLength="13.76" lengthAdjust="spacingAndGlyphs" fill="#2a2a2a" stroke="#2a2a2a" stroke-width="0.08">0.0422</text>
<text x="15.30" y="177.40" font-size="4.6" textLength="49.50" lengthAdjust="spacingAndGlyphs" font-style="italic" fill="#222" stroke="#222" stroke-width="0.13">Number of patients at risk:</text>
<text x="28.75" y="186.00" font-size="4.45" textLength="22.50" lengthAdjust="spacingAndGlyphs" fill="#222" stroke="#222" stroke-width="0.13">Kd56 mg/m</text>
<text x="51.50" y="183.90" font-size="3.2" textLength="1.60" lengthAdjust="spacingAndGlyphs" fill="#222" stroke="#222" stroke-width="0.06">2</text>
<text x="53.20" y="194.20" font-size="4.45" text-anchor="end" textLength="5.38" lengthAdjust="spacingAndGlyphs" fill="#222" stroke="#222" stroke-width="0.13">Vd</text>
<text x="60.90" y="186.00" font-size="4.45" text-anchor="middle" textLength="7.51" lengthAdjust="spacingAndGlyphs" fill="#111" stroke="#111" stroke-width="0.16">168</text>
<text x="60.90" y="194.20" font-size="4.45" text-anchor="middle" textLength="7.51" lengthAdjust="spacingAndGlyphs" fill="#111" stroke="#111" stroke-width="0.16">162</text>
<text x="93.63" y="186.00" font-size="4.45" text-anchor="middle" textLength="7.17" lengthAdjust="spacingAndGlyphs" fill="#111" stroke="#111" stroke-width="0.16">115</text>
<text x="93.63" y="194.20" font-size="4.45" text-anchor="middle" textLength="5.01" lengthAdjust="spacingAndGlyphs" fill="#111" stroke="#111" stroke-width="0.16">71</text>
<text x="126.36" y="186.00" font-size="4.45" text-anchor="middle" textLength="5.01" lengthAdjust="spacingAndGlyphs" fill="#111" stroke="#111" stroke-width="0.16">48</text>
<text x="126.36" y="194.20" font-size="4.45" text-anchor="middle" textLength="5.01" lengthAdjust="spacingAndGlyphs" fill="#111" stroke="#111" stroke-width="0.16">21</text>
<text x="159.09" y="186.00" font-size="4.45" text-anchor="middle" textLength="5.01" lengthAdjust="spacingAndGlyphs" fill="#111" stroke="#111" stroke-width="0.16">13</text>
<text x="159.09" y="194.20" font-size="4.45" text-anchor="middle" textLength="2.50" lengthAdjust="spacingAndGlyphs" fill="#111" stroke="#111" stroke-width="0.16">3</text>
<text x="271.90" y="177.40" font-size="4.6" textLength="49.50" lengthAdjust="spacingAndGlyphs" font-style="italic" fill="#222" stroke="#222" stroke-width="0.13">Number of patients at risk:</text>
<text x="286.35" y="186.00" font-size="4.45" textLength="22.50" lengthAdjust="spacingAndGlyphs" fill="#222" stroke="#222" stroke-width="0.13">Kd56 mg/m</text>
<text x="309.10" y="183.90" font-size="3.2" textLength="1.60" lengthAdjust="spacingAndGlyphs" fill="#222" stroke="#222" stroke-width="0.06">2</text>
<text x="310.80" y="194.20" font-size="4.45" text-anchor="end" textLength="5.38" lengthAdjust="spacingAndGlyphs" fill="#222" stroke="#222" stroke-width="0.13">Vd</text>
<text x="317.60" y="186.00" font-size="4.45" text-anchor="middle" textLength="7.17" lengthAdjust="spacingAndGlyphs" fill="#111" stroke="#111" stroke-width="0.16">110</text>
<text x="317.60" y="194.20" font-size="4.45" text-anchor="middle" textLength="7.51" lengthAdjust="spacingAndGlyphs" fill="#111" stroke="#111" stroke-width="0.16">121</text>
<text x="350.52" y="186.00" font-size="4.45" text-anchor="middle" textLength="5.01" lengthAdjust="spacingAndGlyphs" fill="#111" stroke="#111" stroke-width="0.16">80</text>
<text x="350.52" y="194.20" font-size="4.45" text-anchor="middle" textLength="5.01" lengthAdjust="spacingAndGlyphs" fill="#111" stroke="#111" stroke-width="0.16">81</text>
<text x="383.43" y="186.00" font-size="4.45" text-anchor="middle" textLength="5.01" lengthAdjust="spacingAndGlyphs" fill="#111" stroke="#111" stroke-width="0.16">34</text>
<text x="383.43" y="194.20" font-size="4.45" text-anchor="middle" textLength="5.01" lengthAdjust="spacingAndGlyphs" fill="#111" stroke="#111" stroke-width="0.16">25</text>
<text x="416.35" y="186.00" font-size="4.45" text-anchor="middle" textLength="5.01" lengthAdjust="spacingAndGlyphs" fill="#111" stroke="#111" stroke-width="0.16">13</text>
<text x="416.35" y="194.20" font-size="4.45" text-anchor="middle" textLength="2.50" lengthAdjust="spacingAndGlyphs" fill="#111" stroke="#111" stroke-width="0.16">4</text>
<text x="15.30" y="380.40" font-size="4.6" textLength="49.50" lengthAdjust="spacingAndGlyphs" font-style="italic" fill="#222" stroke="#222" stroke-width="0.13">Number of patients at risk:</text>
<text x="28.75" y="389.00" font-size="4.45" textLength="22.50" lengthAdjust="spacingAndGlyphs" fill="#222" stroke="#222" stroke-width="0.13">Kd56 mg/m</text>
<text x="51.50" y="386.90" font-size="3.2" textLength="1.60" lengthAdjust="spacingAndGlyphs" fill="#222" stroke="#222" stroke-width="0.06">2</text>
<text x="53.20" y="397.20" font-size="4.45" text-anchor="end" textLength="5.38" lengthAdjust="spacingAndGlyphs" fill="#222" stroke="#222" stroke-width="0.13">Vd</text>
<text x="61.20" y="389.00" font-size="4.45" text-anchor="middle" textLength="7.51" lengthAdjust="spacingAndGlyphs" fill="#111" stroke="#111" stroke-width="0.16">168</text>
<text x="61.20" y="397.20" font-size="4.45" text-anchor="middle" textLength="7.51" lengthAdjust="spacingAndGlyphs" fill="#111" stroke="#111" stroke-width="0.16">162</text>
<text x="75.14" y="389.00" font-size="4.45" text-anchor="middle" textLength="7.51" lengthAdjust="spacingAndGlyphs" fill="#111" stroke="#111" stroke-width="0.16">147</text>
<text x="75.14" y="397.20" font-size="4.45" text-anchor="middle" textLength="7.51" lengthAdjust="spacingAndGlyphs" fill="#111" stroke="#111" stroke-width="0.16">129</text>
<text x="89.09" y="389.00" font-size="4.45" text-anchor="middle" textLength="7.51" lengthAdjust="spacingAndGlyphs" fill="#111" stroke="#111" stroke-width="0.16">134</text>
<text x="89.09" y="397.20" font-size="4.45" text-anchor="middle" textLength="7.51" lengthAdjust="spacingAndGlyphs" fill="#111" stroke="#111" stroke-width="0.16">102</text>
<text x="103.03" y="389.00" font-size="4.45" text-anchor="middle" textLength="7.51" lengthAdjust="spacingAndGlyphs" fill="#111" stroke="#111" stroke-width="0.16">106</text>
<text x="103.03" y="397.20" font-size="4.45" text-anchor="middle" textLength="5.01" lengthAdjust="spacingAndGlyphs" fill="#111" stroke="#111" stroke-width="0.16">81</text>
<text x="116.98" y="389.00" font-size="4.45" text-anchor="middle" textLength="5.01" lengthAdjust="spacingAndGlyphs" fill="#111" stroke="#111" stroke-width="0.16">95</text>
<text x="116.98" y="397.20" font-size="4.45" text-anchor="middle" textLength="5.01" lengthAdjust="spacingAndGlyphs" fill="#111" stroke="#111" stroke-width="0.16">66</text>
<text x="130.92" y="389.00" font-size="4.45" text-anchor="middle" textLength="5.01" lengthAdjust="spacingAndGlyphs" fill="#111" stroke="#111" stroke-width="0.16">79</text>
<text x="130.92" y="397.20" font-size="4.45" text-anchor="middle" textLength="5.01" lengthAdjust="spacingAndGlyphs" fill="#111" stroke="#111" stroke-width="0.16">58</text>
<text x="144.86" y="389.00" font-size="4.45" text-anchor="middle" textLength="5.01" lengthAdjust="spacingAndGlyphs" fill="#111" stroke="#111" stroke-width="0.16">48</text>
<text x="144.86" y="397.20" font-size="4.45" text-anchor="middle" textLength="5.01" lengthAdjust="spacingAndGlyphs" fill="#111" stroke="#111" stroke-width="0.16">41</text>
<text x="158.81" y="389.00" font-size="4.45" text-anchor="middle" textLength="5.01" lengthAdjust="spacingAndGlyphs" fill="#111" stroke="#111" stroke-width="0.16">24</text>
<text x="158.81" y="397.20" font-size="4.45" text-anchor="middle" textLength="5.01" lengthAdjust="spacingAndGlyphs" fill="#111" stroke="#111" stroke-width="0.16">13</text>
<text x="272.00" y="380.40" font-size="4.6" textLength="49.50" lengthAdjust="spacingAndGlyphs" font-style="italic" fill="#222" stroke="#222" stroke-width="0.13">Number of patients at risk:</text>
<text x="286.15" y="389.00" font-size="4.45" textLength="22.50" lengthAdjust="spacingAndGlyphs" fill="#222" stroke="#222" stroke-width="0.13">Kd56 mg/m</text>
<text x="308.90" y="386.90" font-size="3.2" textLength="1.60" lengthAdjust="spacingAndGlyphs" fill="#222" stroke="#222" stroke-width="0.06">2</text>
<text x="310.60" y="397.20" font-size="4.45" text-anchor="end" textLength="5.38" lengthAdjust="spacingAndGlyphs" fill="#222" stroke="#222" stroke-width="0.13">Vd</text>
<text x="317.50" y="389.00" font-size="4.45" text-anchor="middle" textLength="7.17" lengthAdjust="spacingAndGlyphs" fill="#111" stroke="#111" stroke-width="0.16">110</text>
<text x="317.50" y="397.20" font-size="4.45" text-anchor="middle" textLength="7.51" lengthAdjust="spacingAndGlyphs" fill="#111" stroke="#111" stroke-width="0.16">121</text>
<text x="331.42" y="389.00" font-size="4.45" text-anchor="middle" textLength="7.51" lengthAdjust="spacingAndGlyphs" fill="#111" stroke="#111" stroke-width="0.16">103</text>
<text x="331.42" y="397.20" font-size="4.45" text-anchor="middle" textLength="6.84" lengthAdjust="spacingAndGlyphs" fill="#111" stroke="#111" stroke-width="0.16">111</text>
<text x="345.34" y="389.00" font-size="4.45" text-anchor="middle" textLength="5.01" lengthAdjust="spacingAndGlyphs" fill="#111" stroke="#111" stroke-width="0.16">96</text>
<text x="345.34" y="397.20" font-size="4.45" text-anchor="middle" textLength="7.51" lengthAdjust="spacingAndGlyphs" fill="#111" stroke="#111" stroke-width="0.16">103</text>
<text x="359.26" y="389.00" font-size="4.45" text-anchor="middle" textLength="5.01" lengthAdjust="spacingAndGlyphs" fill="#111" stroke="#111" stroke-width="0.16">93</text>
<text x="359.26" y="397.20" font-size="4.45" text-anchor="middle" textLength="5.01" lengthAdjust="spacingAndGlyphs" fill="#111" stroke="#111" stroke-width="0.16">93</text>
<text x="373.18" y="389.00" font-size="4.45" text-anchor="middle" textLength="5.01" lengthAdjust="spacingAndGlyphs" fill="#111" stroke="#111" stroke-width="0.16">89</text>
<text x="373.18" y="397.20" font-size="4.45" text-anchor="middle" textLength="5.01" lengthAdjust="spacingAndGlyphs" fill="#111" stroke="#111" stroke-width="0.16">83</text>
<text x="387.10" y="389.00" font-size="4.45" text-anchor="middle" textLength="5.01" lengthAdjust="spacingAndGlyphs" fill="#111" stroke="#111" stroke-width="0.16">82</text>
<text x="387.10" y="397.20" font-size="4.45" text-anchor="middle" textLength="5.01" lengthAdjust="spacingAndGlyphs" fill="#111" stroke="#111" stroke-width="0.16">76</text>
<text x="401.02" y="389.00" font-size="4.45" text-anchor="middle" textLength="5.01" lengthAdjust="spacingAndGlyphs" fill="#111" stroke="#111" stroke-width="0.16">46</text>
<text x="401.02" y="397.20" font-size="4.45" text-anchor="middle" textLength="5.01" lengthAdjust="spacingAndGlyphs" fill="#111" stroke="#111" stroke-width="0.16">41</text>
<text x="414.94" y="389.00" font-size="4.45" text-anchor="middle" textLength="5.01" lengthAdjust="spacingAndGlyphs" fill="#111" stroke="#111" stroke-width="0.16">19</text>
<text x="414.94" y="397.20" font-size="4.45" text-anchor="middle" textLength="4.67" lengthAdjust="spacingAndGlyphs" fill="#111" stroke="#111" stroke-width="0.16">11</text>
</svg>
<svg width="520" height="405" viewBox="0 0 520 405" style="filter:none">
<rect x="0" y="0" width="520" height="1.3" fill="#000"/>
<rect x="0" y="0" width="1.5" height="405" fill="#000"/>
<rect x="518.6" y="0" width="1.4" height="405" fill="#000"/>
<rect x="0" y="403.4" width="520" height="1.6" fill="#000"/>
</svg>
</body></html>
